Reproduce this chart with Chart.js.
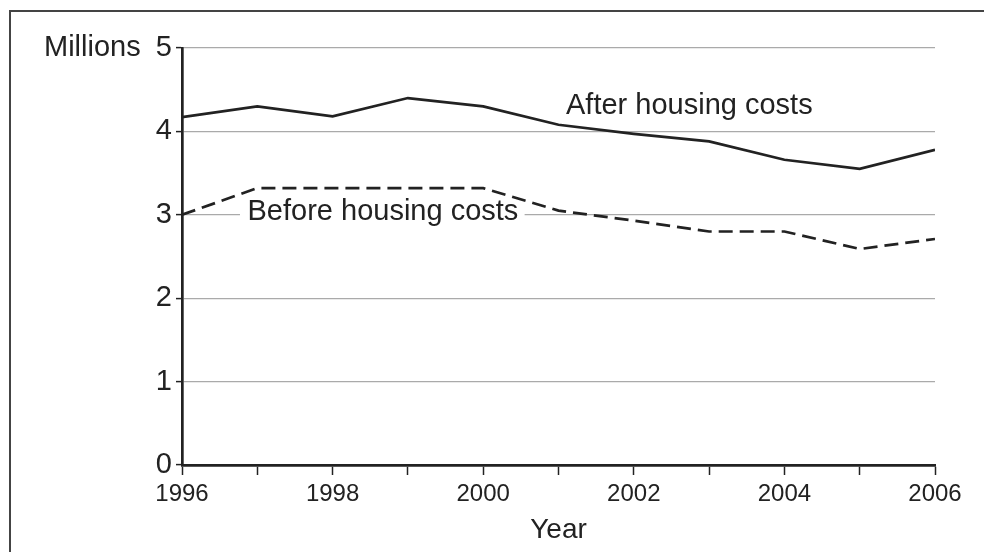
<!DOCTYPE html>
<html>
<head>
<meta charset="utf-8">
<script src="https://cdn.jsdelivr.net/npm/chart.js@4/dist/chart.umd.min.js"></script>
<style>
    html, body { margin: 0; padding: 0; background: #fff; overflow: hidden; }
    #wrap { position: relative; width: 984px; height: 552px; }
    #frame {
        position: absolute; left: 9px; top: 10px; width: 1000px; height: 600px;
        border-top: 2px solid #444; border-left: 2px solid #444; pointer-events: none;
    }
</style>
</head>
<body>
<div id="wrap">
    <canvas id="povertyChart" width="984" height="552"></canvas>
    <div id="frame"></div>
</div>
<script>
// Chart data (millions of people)
const years = [1996, 1997, 1998, 1999, 2000, 2001, 2002, 2003, 2004, 2005, 2006];
const afterHousing = [4.17, 4.30, 4.18, 4.40, 4.30, 4.08, 3.97, 3.88, 3.66, 3.55, 3.78];
const beforeHousing = [3.00, 3.32, 3.32, 3.32, 3.32, 3.05, 2.93, 2.80, 2.80, 2.59, 2.71];
const yTicks = [0, 1, 2, 3, 4, 5];

const FONT = "'Liberation Sans', Arial, sans-serif";
const INK = '#222';

function toPoints(values) {
    return values.map((v, i) => ({ x: years[i], y: v }));
}

/**
 * Draws the unit label and the inline series labels
 */
const labelPlugin = {
    id: 'labels',
    beforeDatasetsDraw(chart) {
        // white patch so the 3 gridline breaks around the label
        const { ctx, scales: { x, y } } = chart;
        const left = x.getPixelForValue(1996.77);
        const right = x.getPixelForValue(2000.55);
        const mid = y.getPixelForValue(3.0);
        ctx.save();
        ctx.fillStyle = '#fff';
        ctx.fillRect(left, mid - 8, right - left, 16);
        ctx.restore();
    },
    afterDraw(chart) {
        const { ctx, scales: { x, y } } = chart;
        ctx.save();
        ctx.fillStyle = INK;
        ctx.font = '29px ' + FONT;
        ctx.textBaseline = 'middle';
        ctx.textAlign = 'left';
        ctx.fillText('Millions', 44, y.getPixelForValue(5));
        ctx.fillText('After housing costs', x.getPixelForValue(2001.1), y.getPixelForValue(4.3));
        ctx.fillText('Before housing costs', x.getPixelForValue(1996.87), y.getPixelForValue(3.03));
        ctx.restore();
    }
};

function initializeChart() {
    const ctx = document.getElementById('povertyChart').getContext('2d');

    window.povertyChart = new Chart(ctx, {
        type: 'line',
        data: {
            datasets: [
                {
                    label: 'After housing costs',
                    data: toPoints(afterHousing),
                    borderColor: INK,
                    borderWidth: 2.7,
                    pointRadius: 0,
                    tension: 0,
                    fill: false
                },
                {
                    label: 'Before housing costs',
                    data: toPoints(beforeHousing),
                    borderColor: INK,
                    borderWidth: 2.7,
                    borderDash: [14, 7],
                    pointRadius: 0,
                    tension: 0,
                    fill: false
                }
            ]
        },
        options: {
            responsive: false,
            animation: false,
            layout: { padding: { left: 0, right: 49, top: 48, bottom: 0 } },
            plugins: {
                legend: { display: false },
                tooltip: { enabled: false }
            },
            scales: {
                x: {
                    type: 'linear',
                    min: years[0],
                    max: years[years.length - 1],
                    afterFit: scale => { scale.height = 87; },
                    afterBuildTicks: scale => {
                        scale.ticks = years.map(v => ({ value: v }));
                    },
                    ticks: {
                        autoSkip: false,
                        maxRotation: 0,
                        padding: 5,
                        color: INK,
                        font: { family: FONT, size: 24 },
                        callback: v => (v % 2 === 0 ? String(v) : '')
                    },
                    grid: {
                        drawOnChartArea: false,
                        drawTicks: true,
                        tickLength: 10,
                        tickWidth: 1.5,
                        tickColor: INK
                    },
                    border: { display: true, color: INK, width: 2.7 },
                    title: {
                        display: true,
                        text: 'Year',
                        color: INK,
                        font: { family: FONT, size: 28 },
                        padding: { top: 0, bottom: 5 }
                    }
                },
                y: {
                    min: 0,
                    max: 5,
                    afterFit: scale => { scale.width = 182; },
                    afterBuildTicks: scale => {
                        scale.ticks = yTicks.map(v => ({ value: v }));
                    },
                    ticks: {
                        padding: 4,
                        color: INK,
                        font: { family: FONT, size: 29 }
                    },
                    grid: {
                        color: '#aaa',
                        lineWidth: 1.2,
                        tickLength: 6,
                        tickWidth: 1.5,
                        tickColor: INK
                    },
                    border: { display: true, color: INK, width: 2.7 }
                }
            }
        },
        plugins: [labelPlugin]
    });
}

document.addEventListener('DOMContentLoaded', initializeChart);
</script>
</body>
</html>
